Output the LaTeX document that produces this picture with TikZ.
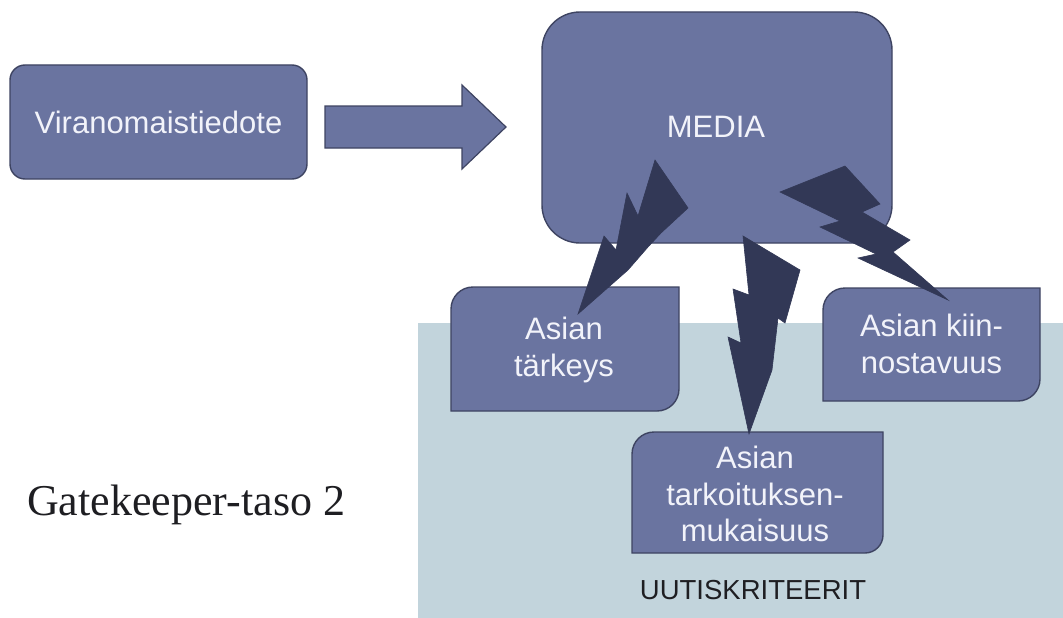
\documentclass[tikz,border=0pt]{standalone}
\usepackage{fontspec}
\setmainfont{Liberation Serif}
\newfontfamily\labelfont{Liberation Sans}
\definecolor{boxfill}{RGB}{106,116,160}
\definecolor{boxline}{RGB}{62,68,98}
\definecolor{boltfill}{RGB}{50,56,86}
\definecolor{panel}{RGB}{194,212,220}
\definecolor{boxtext}{RGB}{242,243,250}
\definecolor{inktext}{RGB}{30,30,34}
\tikzset{
  boxshape/.style={fill=boxfill, draw=boxline, line width=1.4pt},
  boxlabel/.style={text=boxtext, align=center, inner sep=0pt,
    font=\labelfont\fontsize{31}{36.5}\selectfont},
  bolt/.style={fill=boltfill, draw=boltfill, line width=0.6pt, line join=miter},
}
\begin{document}
\begin{tikzpicture}[x=1pt,y=-1pt]
\useasboundingbox (0,0) rectangle (1063,618);
\fill[white] (0,0) rectangle (1063,618);

% light panel behind the criteria
\fill[panel] (418,323) rectangle (1063,618);

% source and media boxes
\node[boxshape, rounded corners=15pt, minimum width=297pt, minimum height=114pt,
      boxlabel] (viran) at (158.5,122) {Viranomaistiedote};
\node[boxshape, rounded corners=38pt, minimum width=350pt, minimum height=231pt,
      boxlabel] (media) at (717,127.5) {};
\node[boxlabel] (medialabel) at (716,127) {MEDIA};

% block arrow from the release to the media
\draw[boxshape, line width=1.2pt] (325,106) -- (462,106) -- (462,85) -- (506,127)
  -- (462,169) -- (462,148) -- (325,148) -- cycle;

% criteria boxes: rounded top-left and bottom-right corners
\draw[boxshape] (451,309) arc[start angle=180,end angle=90,radius=22pt]
  -- (679,287) -- (679,389) arc[start angle=0,end angle=-90,radius=22pt]
  -- (451,411) -- cycle;
\node[boxlabel] (tarkeys) at (564,350) {Asian\\t\"arkeys};

\draw[boxshape] (823,310) arc[start angle=180,end angle=90,radius=22pt]
  -- (1040,288) -- (1040,379) arc[start angle=0,end angle=-90,radius=22pt]
  -- (823,401) -- cycle;
\node[boxlabel] (kiinnostavuus) at (931.5,344) {Asian kiin-\\nostavuus};

\draw[boxshape] (632,454) arc[start angle=180,end angle=90,radius=22pt]
  -- (883,432) -- (883,535) arc[start angle=0,end angle=-90,radius=18pt]
  -- (632,553) -- cycle;
\node[boxlabel] (mukaisuus) at (755,494) {Asian\\tarkoituksen-\\mukaisuus};

% lightning bolts between the media and each criterion
\filldraw[bolt] (655,160) -- (688,208) -- (661,233) -- (648,247) -- (628,270)
  -- (578,314) -- (604,236) -- (616,250) -- (627,193) -- (638,216) -- cycle;
\filldraw[bolt] (743,236) -- (800,270) -- (785,323) -- (778,318) -- (772,370)
  -- (749,434) -- (728,337) -- (741,343) -- (733,289) -- (749,295) -- cycle;
\filldraw[bolt] (780,192) -- (845,166) -- (880,204) -- (862,212) -- (910,240)
  -- (893,252) -- (948,300) -- (858,258) -- (876,254) -- (820,227)
  -- (840,221) -- cycle;

% captions
\node[text=inktext, inner sep=0pt, font=\labelfont\fontsize{27.5}{32}\selectfont]
  (kriteerit) at (753,590) {UUTISKRITEERIT};
\node[anchor=base west, text=inktext, inner sep=0pt,
      font=\fontsize{44}{50}\selectfont] (taso) at (27,515) {Gatekeeper-taso 2};
\end{tikzpicture}
\end{document}
